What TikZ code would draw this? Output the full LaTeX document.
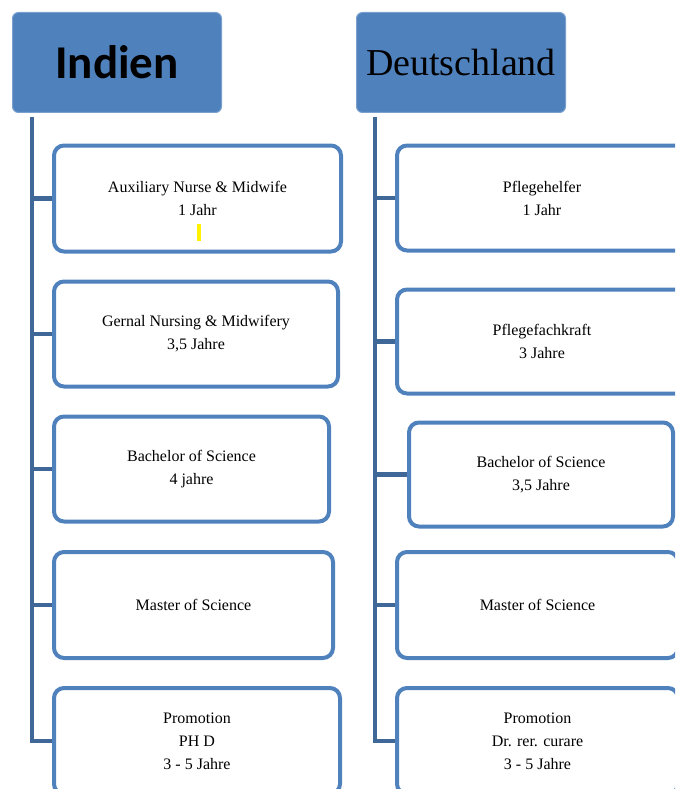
\documentclass[tikz,border=0pt]{standalone}
\usepackage{fontspec}
\setmainfont{Liberation Serif}
\newfontfamily\calibri{Carlito}
\usetikzlibrary{calc}

\definecolor{kastenblau}{HTML}{4F81BD}
\definecolor{stammblau}{HTML}{3F6797}

\tikzset{
  land/.style={fill=kastenblau, draw=kastenblau!75!white, line width=1pt,
    rounded corners=6pt, minimum width=209pt, minimum height=100pt, inner sep=0pt},
  stufe/.style={draw=kastenblau, line width=4pt, fill=white, rounded corners=10pt,
    align=center, inner sep=0pt, font=\fontsize{16}{23}\selectfont},
  stamm/.style={draw=stammblau, line width=4.5pt},
}

\begin{document}
\begin{tikzpicture}[x=1pt,y=-1pt]
\useasboundingbox (0,0) rectangle (675,789);
\clip (0,0) rectangle (675,789);
% Kopfzeile
\node[land, font=\calibri\bfseries\fontsize{47}{50}\selectfont] (indien) at (117,62.5) {Indien};
\node[land, font=\fontsize{38}{40}\selectfont] (deutsch) at (461,62.5) {Deutschland};
% Indien
\node[stufe, minimum width=287pt, minimum height=106pt] (i1) at (197.5,198.5) {Auxiliary Nurse \& Midwife\\1 Jahr};
\node[stufe, minimum width=284pt, minimum height=105pt] (i2) at (196,334) {Gernal Nursing \& Midwifery\\3,5 Jahre};
\node[stufe, minimum width=275pt, minimum height=105pt] (i3) at (191.5,469) {Bachelor of Science\\4 jahre};
\node[stufe, minimum width=279pt, minimum height=106pt] (i4) at (193.5,605) {Master of Science};
\node[stufe, minimum width=286pt, minimum height=106pt] (i5) at (197,741) {Promotion\\PH D\\3 - 5 Jahre};
% Deutschland
\node[stufe, minimum width=290pt, minimum height=105pt] (d1) at (542,198) {Pflegehelfer\\1 Jahr};
\node[stufe, minimum width=290pt, minimum height=104pt] (d2) at (542,341.5) {Pflegefachkraft\\3 Jahre};
\node[stufe, minimum width=264pt, minimum height=104pt] (d3) at (541,474.5) {Bachelor of Science\\3,5 Jahre};
\node[stufe, minimum width=281pt, minimum height=106pt] (d4) at (537.5,605) {Master of Science};
\node[stufe, minimum width=281pt, minimum height=106pt] (d5) at (537.5,741) {Promotion\\Dr. rer. curare\\3 - 5 Jahre};
% Markierung
\fill[yellow] (197,224) rectangle (201,241);
% Stamm links
\coordinate (itop) at ($(indien.south west)+(20,4)$);
\draw[stamm] (itop) |- (i5.west);
\foreach \k in {1,...,4}
  \draw[stamm] (itop |- i\k.west) -- (i\k.west);
% Stamm rechts
\coordinate (dtop) at ($(deutsch.south west)+(19,4)$);
\draw[stamm] (dtop) |- (d5.west);
\foreach \k in {1,...,4}
  \draw[stamm] (dtop |- d\k.west) -- (d\k.west);
\end{tikzpicture}
\end{document}
